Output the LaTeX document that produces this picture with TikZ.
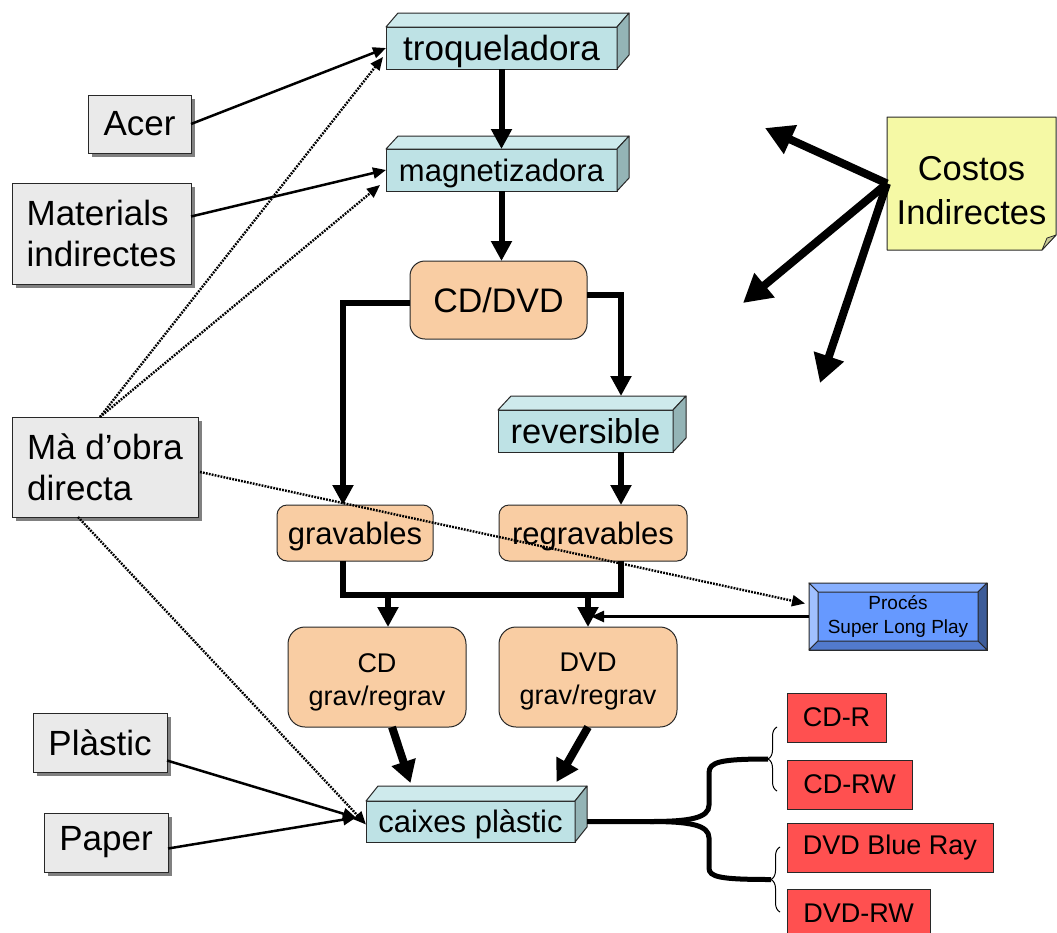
\documentclass[tikz,border=0pt]{standalone}
\usepackage{fontspec}
\setmainfont{Liberation Sans}
\usetikzlibrary{arrows.meta,calc,shadows,backgrounds,decorations.pathreplacing}

\definecolor{cubefront}{RGB}{190,226,229}
\definecolor{cubetop}{RGB}{206,234,236}
\definecolor{cubeside}{RGB}{148,180,182}
\definecolor{peach}{RGB}{249,205,163}
\definecolor{inputgray}{RGB}{234,234,234}
\definecolor{shadowgray}{RGB}{128,128,128}
\definecolor{typered}{RGB}{255,80,80}
\definecolor{noteyellow}{RGB}{245,249,165}
\definecolor{notefold}{RGB}{200,202,150}
\definecolor{slpface}{RGB}{102,153,255}
\definecolor{slplight}{RGB}{160,192,255}
\definecolor{slptop}{RGB}{136,176,255}
\definecolor{slpbottom}{RGB}{82,122,204}
\definecolor{slpdark}{RGB}{61,92,153}
\definecolor{edge}{RGB}{40,40,40}

\newcommand{\fsz}[2]{\fontsize{#1}{#2}\selectfont}

% top and right faces of a box drawn as a cuboid
\newcommand{\cubefaces}[3]{%
  \filldraw[topface] (#1.north west) -- ++(#2,-#3) -- ($(#1.north east)+(#2,-#3)$) -- (#1.north east) -- cycle;
  \filldraw[sideface] (#1.north east) -- ++(#2,-#3) -- ($(#1.south east)+(#2,-#3)$) -- (#1.south east) -- cycle;}

% bevelled frame of a button-like box
\newcommand{\bevelfaces}[2]{%
  \filldraw[bevel, fill=slptop] (#1.north west) -- (#1.north east) -- ($(#1.north east)+(-#2,#2)$) -- ($(#1.north west)+(#2,#2)$) -- cycle;
  \filldraw[bevel, fill=slplight] (#1.north west) -- ($(#1.north west)+(#2,#2)$) -- ($(#1.south west)+(#2,-#2)$) -- (#1.south west) -- cycle;
  \filldraw[bevel, fill=slpdark] (#1.north east) -- ($(#1.north east)+(-#2,#2)$) -- ($(#1.south east)+(-#2,-#2)$) -- (#1.south east) -- cycle;
  \filldraw[bevel, fill=slpbottom] (#1.south west) -- ($(#1.south west)+(#2,-#2)$) -- ($(#1.south east)+(-#2,-#2)$) -- (#1.south east) -- cycle;}

\tikzset{
  every node/.style={outer sep=0pt, inner sep=0pt, align=center},
  nodesc/.style={text depth=0pt},
  machine/.style={draw=edge, line width=1pt, fill=cubefront, font=\fsz{31}{36}},
  topface/.style={draw=edge, line width=1pt, fill=cubetop, line join=round},
  sideface/.style={draw=edge, line width=1pt, fill=cubeside, line join=round},
  bevel/.style={draw=edge, line width=1pt, line join=round},
  stage/.style={draw=edge, line width=1pt, fill=peach, rounded corners=12pt, font=\fsz{31}{36}},
  input/.style={draw=edge, line width=1pt, fill=inputgray, font=\fsz{35}{41},
    drop shadow={shadow xshift=4pt, shadow yshift=-4pt, fill=shadowgray, opacity=1}},
  product/.style={draw=edge, line width=1pt, fill=typered, font=\fsz{27}{32}},
  slp/.style={draw=edge, line width=1pt, fill=slpface, font=\fsz{19}{24}},
  flow/.style={line width=6pt, -{Triangle[width=20pt,length=20pt]}},
  flowline/.style={line width=6pt},
  dropflow/.style={line width=8pt, -{Triangle[width=24pt,length=22pt]}},
  feed/.style={line width=2.5pt, -{Triangle[width=11pt,length=13pt]}},
  labour/.style={line width=2.4pt, dash pattern=on 1.8pt off 1.2pt, -{Triangle[width=11pt,length=13pt]}},
  overhead/.style={line width=8pt, -{Triangle[width=30pt,length=28pt]}},
  bracestem/.style={line width=5pt},
  smallbrace/.style={line width=1pt, decorate, decoration={brace, amplitude=9pt}},
}

\begin{document}
\begin{tikzpicture}[x=1pt,y=-1pt]
\clip (0,0) rectangle (1057,932);

% production chain
\node[machine, nodesc, minimum width=231pt, minimum height=42pt, font=\fsz{35}{40}] (troq) at (501.5,48) {troqueladora};
\cubefaces{troq}{12}{14}
\node[machine, nodesc, minimum width=231pt, minimum height=42pt] (magn) at (501.5,170) {magnetizadora};
\cubefaces{magn}{12}{13}
\node[stage, minimum width=177pt, minimum height=78pt, rounded corners=15pt, font=\fsz{34}{40}] (cdvd) at (498.5,300) {CD/DVD};
\node[machine, minimum width=175pt, minimum height=42pt, font=\fsz{34.5}{40}] (rev) at (585.5,431) {reversible};
\cubefaces{rev}{13}{14}
\node[stage, nodesc, minimum width=156pt, minimum height=56pt, rounded corners=10pt] (grav) at (355,533) {gravables};
\node[stage, nodesc, minimum width=188pt, minimum height=56pt, rounded corners=10pt] (regrav) at (593,533) {regravables};
\node[stage, minimum width=178pt, minimum height=100pt, rounded corners=17pt,
  label={[name=cdtext, font=\fsz{27}{33}, yshift=-5pt]center:CD\\grav/regrav}] (cd) at (377,677) {};
\node[stage, minimum width=178pt, minimum height=100pt, rounded corners=17pt,
  label={[name=dvdtext, font=\fsz{27}{33}, yshift=-5pt]center:DVD\\grav/regrav}] (dvd) at (588,677) {};
\node[machine, nodesc, minimum width=209pt, minimum height=41pt] (caixes) at (470.5,821.5) {caixes plàstic};
\cubefaces{caixes}{12}{15}

\node[slp, minimum width=178pt, minimum height=67pt] (proces) at (898,616.5) {Procés\\Super Long Play};
\bevelfaces{proces}{9}

% inputs
\node[input, minimum width=103pt, minimum height=58pt] (acer) at (139.5,124) {Acer};
\node[input, minimum width=179pt, minimum height=101pt, align=left] (mat) at (101.5,233.5) {Materials\\indirectes};
\node[input, minimum width=186pt, minimum height=100pt, align=left] (ma) at (105,467) {Mà d’obra\\directa};
\node[input, minimum width=134pt, minimum height=59pt] (plastic) at (100,742.5) {Plàstic};
\node[input, minimum width=124pt, minimum height=59pt] (paper) at (106,842.5) {Paper};

% product types
\node[product, minimum width=99pt, minimum height=49pt] (cdr) at (836.5,717.5) {CD-R};
\node[product, minimum width=125pt, minimum height=49pt] (cdrw) at (849.5,784.5) {CD-RW};
\node[product, minimum width=206pt, minimum height=49pt] (bluray) at (890,847.5) {DVD Blue Ray};
\node[product, minimum width=143pt, minimum height=49pt] (dvdrw) at (858.5,913.5) {DVD-RW};

% overhead note
\node[minimum width=169pt, minimum height=133pt,
  label={[name=costostext, font=\fsz{34.5}{44}, yshift=-7pt]center:Costos\\Indirectes}] (costos) at (971.5,183.5) {};
\begin{scope}[on background layer]
  \filldraw[draw=edge, line width=1pt, fill=noteyellow, line join=round]
    (costos.north west) -- (costos.north east) -- ($(costos.south east)+(0,-15)$)
    -- ($(costos.south east)+(-14,0)$) -- (costos.south west) -- cycle;
  \filldraw[draw=edge, line width=0.8pt, fill=notefold, line join=round]
    ($(costos.south east)+(-14,0)$) -- ($(costos.south east)+(-9,-12)$) -- ($(costos.south east)+(0,-15)$) -- cycle;
\end{scope}

% main flow
\draw[flow] (troq.south) -- (magn.north);
\draw[flow] (magn.south) -- (magn.south |- cdvd.north);
\draw[flow] ($(cdvd.west)+(0,3)$) -| ($(grav.north)+(-12,0)$);
\draw[flow] ($(cdvd.east)+(0,-5)$) -| ($(rev.north)+(35.5,-14)$);
\draw[flow] ($(rev.south)+(35.5,0)$) -- ($(regrav.north)+(28,0)$);
\coordinate (mergeL) at (388,595);
\coordinate (mergeR) at (588,595);
\draw[flowline] ($(grav.south)+(-12,0)$) |- ($(regrav.south)+(28,34)$) -- ($(regrav.south)+(28,0)$);
\draw[flow] (mergeL) -- (mergeL |- cd.north);
\draw[flow] (mergeR) -- (dvd.north);
\coordinate (slpjoin) at (591,616.5);
\draw[feed] (proces.west) -- (slpjoin);
\draw[dropflow] ($(cd.south)+(15,0)$) -- ($(caixes.north)+(-60,-18)$);
\draw[dropflow] (dvd.south) -- ($(caixes.north)+(86,-19)$);

% material inputs
\draw[feed] (acer.east) -- (troq.west);
\draw[feed] ($(mat.east)+(0,-17)$) -- (magn.west);
\draw[feed] ($(plastic.east)+(0,18)$) -- ($(caixes.west)+(-10,-4)$);
\draw[feed] ($(paper.east)+(0,6)$) -- ($(caixes.west)+(-10,-4)$);

% direct labour
\draw[labour] ($(ma.north)+(-5,0)$) -- ($(troq.west)+(-3,9)$);
\draw[labour] ($(ma.north)+(-5,0)$) -- ($(magn.south west)+(-6,-6)$);
\draw[labour] ($(ma.east)+(2,5)$) -- ($(proces.west)+(-4,-13)$);
\draw[labour] ($(ma.south)+(-27,0)$) -- ($(caixes.west)+(0,3)$);

% overheads
\coordinate (ohA) at (765,128);
\coordinate (ohB) at (743,303);
\coordinate (ohC) at (820,383);
\draw[overhead] (costos.west) -- (ohA);
\draw[overhead] (costos.west) -- (ohB);
\draw[overhead] (costos.west) -- (ohC);

% product groups
\draw[smallbrace] (777,791) -- (777,727);
\draw[smallbrace] (780,912) -- (780,847);
\coordinate (braceU) at (768,759);
\coordinate (braceL) at (771,879.5);
\coordinate (forkC) at (650,821.5);
\draw[bracestem] ($(caixes.east)+(12,0)$) -- (forkC)
  .. controls (690,821.5) and (709,818) .. (709,805) -- (709,773)
  .. controls (709,762) and (720,759) .. (braceU);
\draw[bracestem] (forkC)
  .. controls (690,821.5) and (709,825) .. (709,838) -- (709,868)
  .. controls (709,877) and (720,879.5) .. (braceL);
\end{tikzpicture}
\end{document}
